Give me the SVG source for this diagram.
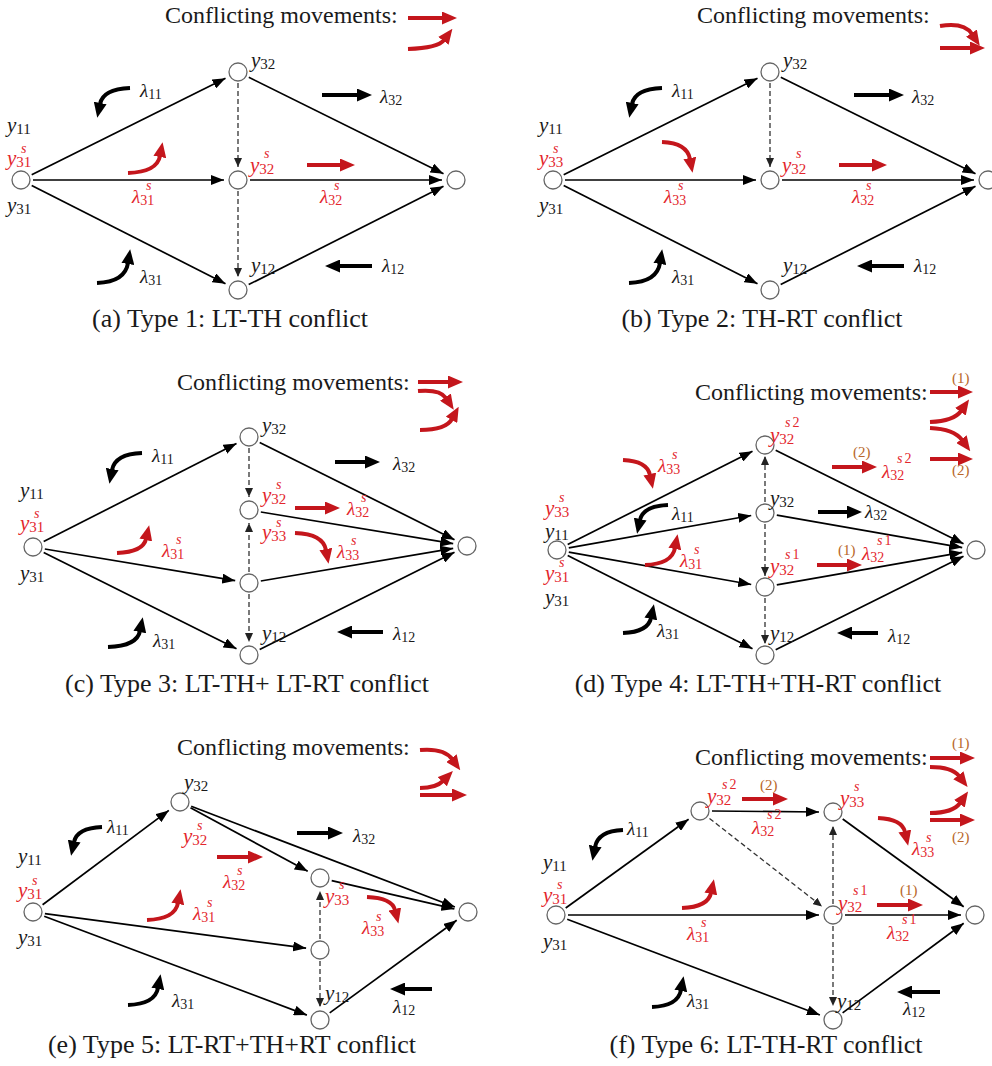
<svg xmlns="http://www.w3.org/2000/svg" width="992" height="1066" viewBox="0 0 992 1066">
<style>
text{font-family:"Liberation Serif","Times New Roman",serif;fill:#1a1a1a}
.title{font-size:24px}
.cap{font-size:26px;text-anchor:middle}
.y{font-size:21px;font-style:italic}
.l{font-size:19px;font-style:italic}
.sb{font-size:15px;font-style:normal}
.sl{font-size:14px;font-style:normal}
.sup{font-size:14px;font-style:italic}
.red{fill:#e3262d}
.br{fill:#b8672a;font-size:15px}
.n{fill:#fff;stroke:#666;stroke-width:1.3}
.e{stroke:#000;stroke-width:1.7;fill:none;marker-end:url(#ha)}
.d{stroke:#333;stroke-width:1.3;stroke-dasharray:5 3;fill:none;marker-end:url(#hd)}
.mk{stroke:#000;stroke-width:4;fill:none;marker-end:url(#hk)}
.mr{stroke:#c4161c;stroke-width:4;fill:none;marker-end:url(#hr)}
</style>
<defs>
<marker id="ha" markerUnits="userSpaceOnUse" markerWidth="13" markerHeight="10" viewBox="0 0 13 10" refX="13" refY="5" orient="auto"><path d="M0,0 L13,5 L0,10 z" fill="#000"/></marker>
<marker id="hd" markerUnits="userSpaceOnUse" markerWidth="9" markerHeight="8" viewBox="0 0 9 8" refX="9" refY="4" orient="auto"><path d="M0,0 L9,4 L0,8 z" fill="#222"/></marker>
<marker id="hk" markerUnits="userSpaceOnUse" markerWidth="15" markerHeight="13" viewBox="0 0 15 13" refX="1" refY="6.5" orient="auto"><path d="M0,0 L15,6.5 L0,13 z" fill="#000"/></marker>
<marker id="hr" markerUnits="userSpaceOnUse" markerWidth="15" markerHeight="13" viewBox="0 0 15 13" refX="1" refY="6.5" orient="auto"><path d="M0,0 L15,6.5 L0,13 z" fill="#c4161c"/></marker>
</defs>
<rect width="992" height="1066" fill="#fff"/>

<!-- Panel (a) -->
<g id="panel-a">
<g id="a-connectors">
<line class="e" x1="31.7" y1="174.7" x2="225.5" y2="78.2"/>
<line class="e" x1="33" y1="180" x2="224" y2="180"/>
<line class="e" x1="31.7" y1="185.4" x2="225.5" y2="283.7"/>
<line class="e" x1="248.8" y1="77.3" x2="443.5" y2="173.8"/>
<line class="e" x1="250" y1="180" x2="442" y2="180"/>
<line class="e" x1="248.7" y1="284.6" x2="443.5" y2="186.3"/>
<line class="d" x1="238" y1="83" x2="238" y2="167"/>
<line class="d" x1="238" y1="191" x2="238" y2="277"/>
</g>
<g id="a-L"><circle class="n" cx="21" cy="180" r="9"/>
<text class="y" x="7" y="132">y<tspan class="sb" dy="2">11</tspan></text>
<text class="y red" x="7" y="165">y<tspan class="sb" dy="2">31</tspan></text><text class="sup red" x="21" y="153">s</text>
<text class="y" x="7" y="212">y<tspan class="sb" dy="2">31</tspan></text></g>
<g id="a-T"><circle class="n" cx="238" cy="72" r="9"/><text class="y" x="251" y="67">y<tspan class="sb" dy="2">32</tspan></text></g>
<g id="a-M"><circle class="n" cx="238" cy="180" r="9"/><text class="y red" x="250" y="172">y<tspan class="sb" dy="2">32</tspan></text><text class="sup red" x="264" y="158">s</text></g>
<g id="a-B"><circle class="n" cx="238" cy="290" r="9"/><text class="y" x="251" y="272">y<tspan class="sb" dy="2">12</tspan></text></g>
<g id="a-R"><circle class="n" cx="456" cy="180" r="9"/></g>
<g id="a-movements">
<path class="mk" d="M130,88 Q103,89 100,104"/>
<path class="mk" d="M97,283 Q125,282 128,263"/>
<path class="mk" d="M322,95 H358"/>
<path class="mk" d="M372,266 H339"/>
<path class="mr" d="M128,173 Q157,172 160,156"/>
<path class="mr" d="M307,165 H341"/>
<text class="l" x="140" y="97">λ<tspan class="sl" dy="2">11</tspan></text>
<text class="l red" x="132" y="203">λ<tspan class="sl" dy="2">31</tspan></text><text class="sup red" x="146" y="190">s</text>
<text class="l" x="140" y="283">λ<tspan class="sl" dy="2">31</tspan></text>
<text class="l" x="380" y="103">λ<tspan class="sl" dy="2">32</tspan></text>
<text class="l red" x="320" y="203">λ<tspan class="sl" dy="2">32</tspan></text><text class="sup red" x="334" y="190">s</text>
<text class="l" x="382" y="272">λ<tspan class="sl" dy="2">12</tspan></text>
</g>
<g id="a-legend">
<text class="title" x="165" y="23">Conflicting movements:</text>
<path class="mr" d="M408,18 H443"/>
<path class="mr" d="M408,49 Q438,48 444,40"/>
</g>
<text class="cap" x="230" y="327">(a) Type 1: LT-TH conflict</text>
</g>

<!-- Panel (b) -->
<g id="panel-b" transform="translate(532,0)">
<g id="b-connectors">
<line class="e" x1="31.7" y1="174.7" x2="225.5" y2="78.2"/>
<line class="e" x1="33" y1="180" x2="224" y2="180"/>
<line class="e" x1="31.7" y1="185.4" x2="225.5" y2="283.7"/>
<line class="e" x1="248.8" y1="77.3" x2="443.5" y2="173.8"/>
<line class="e" x1="250" y1="180" x2="442" y2="180"/>
<line class="e" x1="248.7" y1="284.6" x2="443.5" y2="186.3"/>
<line class="d" x1="238" y1="83" x2="238" y2="167"/>
</g>
<g id="b-L"><circle class="n" cx="21" cy="180" r="9"/>
<text class="y" x="7" y="132">y<tspan class="sb" dy="2">11</tspan></text>
<text class="y red" x="7" y="165">y<tspan class="sb" dy="2">33</tspan></text><text class="sup red" x="21" y="153">s</text>
<text class="y" x="7" y="212">y<tspan class="sb" dy="2">31</tspan></text></g>
<g id="b-T"><circle class="n" cx="238" cy="72" r="9"/><text class="y" x="251" y="67">y<tspan class="sb" dy="2">32</tspan></text></g>
<g id="b-M"><circle class="n" cx="238" cy="180" r="9"/><text class="y red" x="250" y="172">y<tspan class="sb" dy="2">32</tspan></text><text class="sup red" x="264" y="158">s</text></g>
<g id="b-B"><circle class="n" cx="238" cy="290" r="9"/><text class="y" x="251" y="272">y<tspan class="sb" dy="2">12</tspan></text></g>
<g id="b-R"><circle class="n" cx="456" cy="180" r="9"/></g>
<g id="b-movements">
<path class="mk" d="M130,88 Q103,89 100,104"/>
<path class="mk" d="M97,283 Q125,282 128,263"/>
<path class="mk" d="M322,95 H358"/>
<path class="mk" d="M372,266 H339"/>
<path class="mr" d="M130,142 Q155,143 158,159"/>
<path class="mr" d="M307,165 H341"/>
<text class="l" x="140" y="97">λ<tspan class="sl" dy="2">11</tspan></text>
<text class="l red" x="132" y="203">λ<tspan class="sl" dy="2">33</tspan></text><text class="sup red" x="146" y="190">s</text>
<text class="l" x="140" y="283">λ<tspan class="sl" dy="2">31</tspan></text>
<text class="l" x="380" y="103">λ<tspan class="sl" dy="2">32</tspan></text>
<text class="l red" x="320" y="203">λ<tspan class="sl" dy="2">32</tspan></text><text class="sup red" x="334" y="190">s</text>
<text class="l" x="382" y="272">λ<tspan class="sl" dy="2">12</tspan></text>
</g>
<g id="b-legend">
<text class="title" x="165" y="23">Conflicting movements:</text>
<path class="mr" d="M408,26 Q432,22 440,34"/>
<path class="mr" d="M408,48 H439"/>
</g>
<text class="cap" x="230" y="327">(b) Type 2: TH-RT conflict</text>
</g>

<!-- Panel (c) -->
<g id="panel-c">
<g id="c-connectors">
<line class="e" x1="43.7" y1="541.6" x2="236.5" y2="443.4"/>
<line class="e" x1="44.8" y1="549" x2="235.2" y2="580.7"/>
<line class="e" x1="43.7" y1="552.4" x2="236.5" y2="648.7"/>
<line class="e" x1="259.7" y1="442.4" x2="454.5" y2="539.7"/>
<line class="e" x1="260.8" y1="512" x2="453.2" y2="543.7"/>
<line class="e" x1="260.8" y1="581" x2="453.2" y2="548.3"/>
<line class="e" x1="259.7" y1="649.6" x2="454.5" y2="552.3"/>
<line class="d" x1="249" y1="448" x2="249" y2="497"/>
<line class="d" x1="249" y1="572" x2="249" y2="523"/>
<line class="d" x1="249" y1="594" x2="249" y2="642"/>
</g>
<g id="c-L"><circle class="n" cx="33" cy="547" r="9"/>
<text class="y" x="20" y="497">y<tspan class="sb" dy="2">11</tspan></text>
<text class="y red" x="20" y="530">y<tspan class="sb" dy="2">31</tspan></text><text class="sup red" x="34" y="518">s</text>
<text class="y" x="20" y="580">y<tspan class="sb" dy="2">31</tspan></text></g>
<g id="c-T"><circle class="n" cx="249" cy="437" r="9"/><text class="y" x="262" y="432">y<tspan class="sb" dy="2">32</tspan></text></g>
<g id="c-N2"><circle class="n" cx="249" cy="510" r="9"/><text class="y red" x="262" y="502">y<tspan class="sb" dy="2">32</tspan></text><text class="sup red" x="276" y="489">s</text></g>
<g id="c-N3"><circle class="n" cx="249" cy="583" r="9"/><text class="y red" x="262" y="539">y<tspan class="sb" dy="2">33</tspan></text><text class="sup red" x="276" y="527">s</text></g>
<g id="c-B"><circle class="n" cx="249" cy="655" r="9"/><text class="y" x="262" y="640">y<tspan class="sb" dy="2">12</tspan></text></g>
<g id="c-R"><circle class="n" cx="467" cy="546" r="9"/></g>
<g id="c-movements">
<path class="mk" d="M142,453 Q115,454 112,470"/>
<path class="mk" d="M108,647 Q137,646 140,631"/>
<path class="mk" d="M335,462 H366"/>
<path class="mk" d="M383,632 H351"/>
<path class="mr" d="M117,553 Q143,552 146,539"/>
<path class="mr" d="M295,508 H326"/>
<path class="mr" d="M295,533 Q323,534 326,550"/>
<text class="l" x="152" y="462">λ<tspan class="sl" dy="2">11</tspan></text>
<text class="l red" x="162" y="557">λ<tspan class="sl" dy="2">31</tspan></text><text class="sup red" x="176" y="544">s</text>
<text class="l" x="153" y="647">λ<tspan class="sl" dy="2">31</tspan></text>
<text class="l" x="393" y="470">λ<tspan class="sl" dy="2">32</tspan></text>
<text class="l red" x="347" y="515">λ<tspan class="sl" dy="2">32</tspan></text><text class="sup red" x="361" y="502">s</text>
<text class="l red" x="337" y="558">λ<tspan class="sl" dy="2">33</tspan></text><text class="sup red" x="351" y="545">s</text>
<text class="l" x="393" y="640">λ<tspan class="sl" dy="2">12</tspan></text>
</g>
<g id="c-legend">
<text class="title" x="177" y="390">Conflicting movements:</text>
<path class="mr" d="M418,382 H449"/>
<path class="mr" d="M418,391 Q440,389 446,398"/>
<path class="mr" d="M420,430 Q446,430 452,419"/>
</g>
<text class="cap" x="247" y="692">(c) Type 3: LT-TH+ LT-RT conflict</text>
</g>

<!-- Panel (d) -->
<g id="panel-d">
<g id="d-connectors">
<line class="e" x1="567.7" y1="544.6" x2="752.5" y2="451.3"/>
<line class="e" x1="568.8" y1="547.9" x2="751.2" y2="515.5"/>
<line class="e" x1="568.8" y1="552.1" x2="751.2" y2="584.5"/>
<line class="e" x1="567.7" y1="555.4" x2="752.5" y2="648.7"/>
<line class="e" x1="775.7" y1="450.3" x2="963.5" y2="543.8"/>
<line class="e" x1="776.8" y1="515.1" x2="962.2" y2="547.6"/>
<line class="e" x1="776.8" y1="584.9" x2="962.2" y2="552.4"/>
<line class="e" x1="775.7" y1="649.7" x2="963.5" y2="556.2"/>
<line class="d" x1="765" y1="502" x2="765" y2="456"/>
<line class="d" x1="765" y1="524" x2="765" y2="576"/>
<line class="d" x1="765" y1="598" x2="765" y2="644"/>
</g>
<g id="d-L"><circle class="n" cx="557" cy="550" r="9"/>
<text class="y red" x="545" y="515">y<tspan class="sb" dy="2">33</tspan></text><text class="sup red" x="559" y="502">s</text>
<text class="y" x="545" y="538">y<tspan class="sb" dy="2">11</tspan></text>
<text class="y red" x="545" y="580">y<tspan class="sb" dy="2">31</tspan></text><text class="sup red" x="559" y="567">s</text>
<text class="y" x="545" y="604">y<tspan class="sb" dy="2">31</tspan></text></g>
<g id="d-T"><circle class="n" cx="765" cy="445" r="9"/><text class="y red" x="770" y="442">y<tspan class="sb" dy="2">32</tspan></text><text class="sup red" x="785" y="427">s<tspan class="sl" dx="2">2</tspan></text></g>
<g id="d-N2"><circle class="n" cx="765" cy="513" r="9"/><text class="y" x="770" y="505">y<tspan class="sb" dy="2">32</tspan></text></g>
<g id="d-N3"><circle class="n" cx="765" cy="587" r="9"/><text class="y red" x="770" y="573">y<tspan class="sb" dy="2">32</tspan></text><text class="sup red" x="785" y="559">s<tspan class="sl" dx="2">1</tspan></text></g>
<g id="d-B"><circle class="n" cx="765" cy="655" r="9"/><text class="y" x="770" y="640">y<tspan class="sb" dy="2">12</tspan></text></g>
<g id="d-R"><circle class="n" cx="976" cy="550" r="9"/></g>
<g id="d-movements">
<path class="mr" d="M623,460 Q647,461 650,475"/>
<path class="mk" d="M668,505 Q643,506 640,520"/>
<path class="mr" d="M645,565 Q672,564 675,548"/>
<path class="mk" d="M623,633 Q648,632 651,618"/>
<path class="mr" d="M832,467 H863"/>
<path class="mk" d="M818,512 H848"/>
<path class="mr" d="M817,565 H848"/>
<path class="mk" d="M878,633 H851"/>
<text class="l red" x="658" y="472">λ<tspan class="sl" dy="2">33</tspan></text><text class="sup red" x="672" y="459">s</text>
<text class="l" x="672" y="520">λ<tspan class="sl" dy="2">11</tspan></text>
<text class="l red" x="680" y="567">λ<tspan class="sl" dy="2">31</tspan></text><text class="sup red" x="694" y="554">s</text>
<text class="l" x="657" y="637">λ<tspan class="sl" dy="2">31</tspan></text>
<text class="br" x="853" y="457">(2)</text>
<text class="l red" x="882" y="478">λ<tspan class="sl" dy="2">32</tspan></text><text class="sup red" x="897" y="463">s<tspan class="sl" dx="2">2</tspan></text>
<text class="l" x="865" y="518">λ<tspan class="sl" dy="2">32</tspan></text>
<text class="br" x="838" y="555">(1)</text>
<text class="l red" x="862" y="560">λ<tspan class="sl" dy="2">32</tspan></text><text class="sup red" x="877" y="545">s<tspan class="sl" dx="2">1</tspan></text>
<text class="l" x="888" y="642">λ<tspan class="sl" dy="2">12</tspan></text>
</g>
<g id="d-legend">
<text class="title" x="695" y="400">Conflicting movements:</text>
<text class="br" x="952" y="383">(1)</text>
<path class="mr" d="M930,392 H959"/>
<path class="mr" d="M930,422 Q954,421 961,411"/>
<path class="mr" d="M930,428 Q954,429 962,440"/>
<path class="mr" d="M930,459 H959"/>
<text class="br" x="952" y="475">(2)</text>
</g>
<text class="cap" x="758" y="692">(d) Type 4: LT-TH+TH-RT conflict</text>
</g>

<!-- Panel (e) -->
<g id="panel-e">
<g id="e-connectors">
<line class="e" x1="42.6" y1="904.8" x2="168.8" y2="810.4"/>
<line class="e" x1="191.2" y1="806.3" x2="454.9" y2="907"/>
<line class="e" x1="190.5" y1="807.7" x2="307.7" y2="871.3"/>
<line class="e" x1="331.7" y1="880.7" x2="454.4" y2="908.9"/>
<line class="e" x1="44.9" y1="913.6" x2="306.1" y2="948.2"/>
<line class="e" x1="44.2" y1="916.2" x2="306.9" y2="1015.1"/>
<line class="e" x1="329.7" y1="1012.9" x2="456.7" y2="920.3"/>
<line class="d" x1="320" y1="939" x2="320" y2="891"/>
<line class="d" x1="320" y1="961" x2="320" y2="1007"/>
</g>
<g id="e-L"><circle class="n" cx="33" cy="912" r="9"/>
<text class="y" x="18" y="863">y<tspan class="sb" dy="2">11</tspan></text>
<text class="y red" x="18" y="897">y<tspan class="sb" dy="2">31</tspan></text><text class="sup red" x="32" y="885">s</text>
<text class="y" x="18" y="944">y<tspan class="sb" dy="2">31</tspan></text></g>
<g id="e-T"><circle class="n" cx="180" cy="802" r="9"/><text class="y" x="184" y="789">y<tspan class="sb" dy="2">32</tspan></text>
<text class="y red" x="183" y="843">y<tspan class="sb" dy="2">32</tspan></text><text class="sup red" x="197" y="830">s</text></g>
<g id="e-N33"><circle class="n" cx="320" cy="878" r="9"/><text class="y red" x="325" y="903">y<tspan class="sb" dy="2">33</tspan></text><text class="sup red" x="339" y="889">s</text></g>
<g id="e-N3"><circle class="n" cx="320" cy="950" r="9"/></g>
<g id="e-B"><circle class="n" cx="320" cy="1020" r="9"/><text class="y" x="325" y="1000">y<tspan class="sb" dy="2">12</tspan></text></g>
<g id="e-R"><circle class="n" cx="468" cy="912" r="9"/></g>
<g id="e-movements">
<path class="mk" d="M102,827 Q77,828 74,842"/>
<path class="mr" d="M147,920 Q175,919 178,903"/>
<path class="mk" d="M128,1005 Q155,1004 158,988"/>
<path class="mr" d="M217,857 H249"/>
<path class="mk" d="M297,833 H329"/>
<path class="mr" d="M367,897 Q392,898 395,910"/>
<path class="mk" d="M432,989 H404"/>
<text class="l" x="107" y="833">λ<tspan class="sl" dy="2">11</tspan></text>
<text class="l red" x="193" y="920">λ<tspan class="sl" dy="2">31</tspan></text><text class="sup red" x="207" y="907">s</text>
<text class="l" x="172" y="1007">λ<tspan class="sl" dy="2">31</tspan></text>
<text class="l red" x="223" y="888">λ<tspan class="sl" dy="2">32</tspan></text><text class="sup red" x="237" y="875">s</text>
<text class="l" x="353" y="842">λ<tspan class="sl" dy="2">32</tspan></text>
<text class="l red" x="362" y="934">λ<tspan class="sl" dy="2">33</tspan></text><text class="sup red" x="376" y="921">s</text>
<text class="l" x="393" y="1013">λ<tspan class="sl" dy="2">12</tspan></text>
</g>
<g id="e-legend">
<text class="title" x="177" y="755">Conflicting movements:</text>
<path class="mr" d="M420,750 Q444,748 452,759"/>
<path class="mr" d="M420,788 Q436,788 443,781"/>
<path class="mr" d="M420,795 H453"/>
</g>
<text class="cap" x="232" y="1053">(e) Type 5: LT-RT+TH+RT conflict</text>
</g>

<!-- Panel (f) -->
<g id="panel-f">
<g id="f-connectors">
<line class="e" x1="565.7" y1="908" x2="688.6" y2="819.2"/>
<line class="e" x1="568" y1="915" x2="819" y2="915"/>
<line class="e" x1="567.2" y1="919.3" x2="819.9" y2="1015"/>
<line class="e" x1="712" y1="811" x2="819" y2="812"/>
<line class="d" x1="709.5" y1="818.4" x2="822" y2="906.4"/>
<line class="d" x1="833" y1="904" x2="833" y2="826"/>
<line class="d" x1="833" y1="926" x2="833" y2="1006"/>
<line class="e" x1="842.7" y1="819" x2="963.7" y2="906.8"/>
<line class="e" x1="845" y1="915" x2="961" y2="915"/>
<line class="e" x1="842.6" y1="1012.9" x2="963.7" y2="923.3"/>
</g>
<g id="f-L"><circle class="n" cx="556" cy="915" r="9"/>
<text class="y" x="543" y="869">y<tspan class="sb" dy="2">11</tspan></text>
<text class="y red" x="543" y="902">y<tspan class="sb" dy="2">31</tspan></text><text class="sup red" x="557" y="889">s</text>
<text class="y" x="543" y="948">y<tspan class="sb" dy="2">31</tspan></text></g>
<g id="f-S2"><circle class="n" cx="700" cy="811" r="9"/><text class="y red" x="707" y="803">y<tspan class="sb" dy="2">32</tspan></text><text class="sup red" x="722" y="789">s<tspan class="sl" dx="2">2</tspan></text></g>
<g id="f-S33"><circle class="n" cx="833" cy="812" r="9"/><text class="y red" x="840" y="805">y<tspan class="sb" dy="2">33</tspan></text><text class="sup red" x="854" y="791">s</text></g>
<g id="f-M"><circle class="n" cx="833" cy="915" r="9"/><text class="y red" x="838" y="910">y<tspan class="sb" dy="2">32</tspan></text><text class="sup red" x="853" y="895">s<tspan class="sl" dx="2">1</tspan></text></g>
<g id="f-B"><circle class="n" cx="833" cy="1020" r="9"/><text class="y" x="837" y="1008">y<tspan class="sb" dy="2">12</tspan></text></g>
<g id="f-R"><circle class="n" cx="975" cy="915" r="9"/></g>
<g id="f-movements">
<path class="mk" d="M623,830 Q598,831 595,847"/>
<path class="mr" d="M682,908 Q708,907 711,893"/>
<path class="mk" d="M652,1007 Q678,1006 681,990"/>
<path class="mr" d="M742,799 H774"/>
<path class="mr" d="M878,818 Q902,819 905,832"/>
<path class="mr" d="M877,905 H909"/>
<path class="mk" d="M940,992 H911"/>
<text class="l" x="627" y="835">λ<tspan class="sl" dy="2">11</tspan></text>
<text class="l red" x="687" y="940">λ<tspan class="sl" dy="2">31</tspan></text><text class="sup red" x="701" y="927">s</text>
<text class="l" x="687" y="1007">λ<tspan class="sl" dy="2">31</tspan></text>
<text class="br" x="760" y="790">(2)</text>
<text class="l red" x="752" y="834">λ<tspan class="sl" dy="2">32</tspan></text><text class="sup red" x="767" y="819">s<tspan class="sl" dx="2">2</tspan></text>
<text class="l red" x="912" y="855">λ<tspan class="sl" dy="2">33</tspan></text><text class="sup red" x="926" y="842">s</text>
<text class="br" x="900" y="895">(1)</text>
<text class="l red" x="887" y="939">λ<tspan class="sl" dy="2">32</tspan></text><text class="sup red" x="902" y="924">s<tspan class="sl" dx="2">1</tspan></text>
<text class="l" x="903" y="1015">λ<tspan class="sl" dy="2">12</tspan></text>
</g>
<g id="f-legend">
<text class="title" x="695" y="765">Conflicting movements:</text>
<text class="br" x="952" y="748">(1)</text>
<path class="mr" d="M930,758 H961"/>
<path class="mr" d="M930,767 Q952,767 959,776"/>
<path class="mr" d="M930,813 Q953,813 960,803"/>
<path class="mr" d="M930,820 H961"/>
<text class="br" x="952" y="842">(2)</text>
</g>
<text class="cap" x="766" y="1053">(f) Type 6: LT-TH-RT conflict</text>
</g>
</svg>
